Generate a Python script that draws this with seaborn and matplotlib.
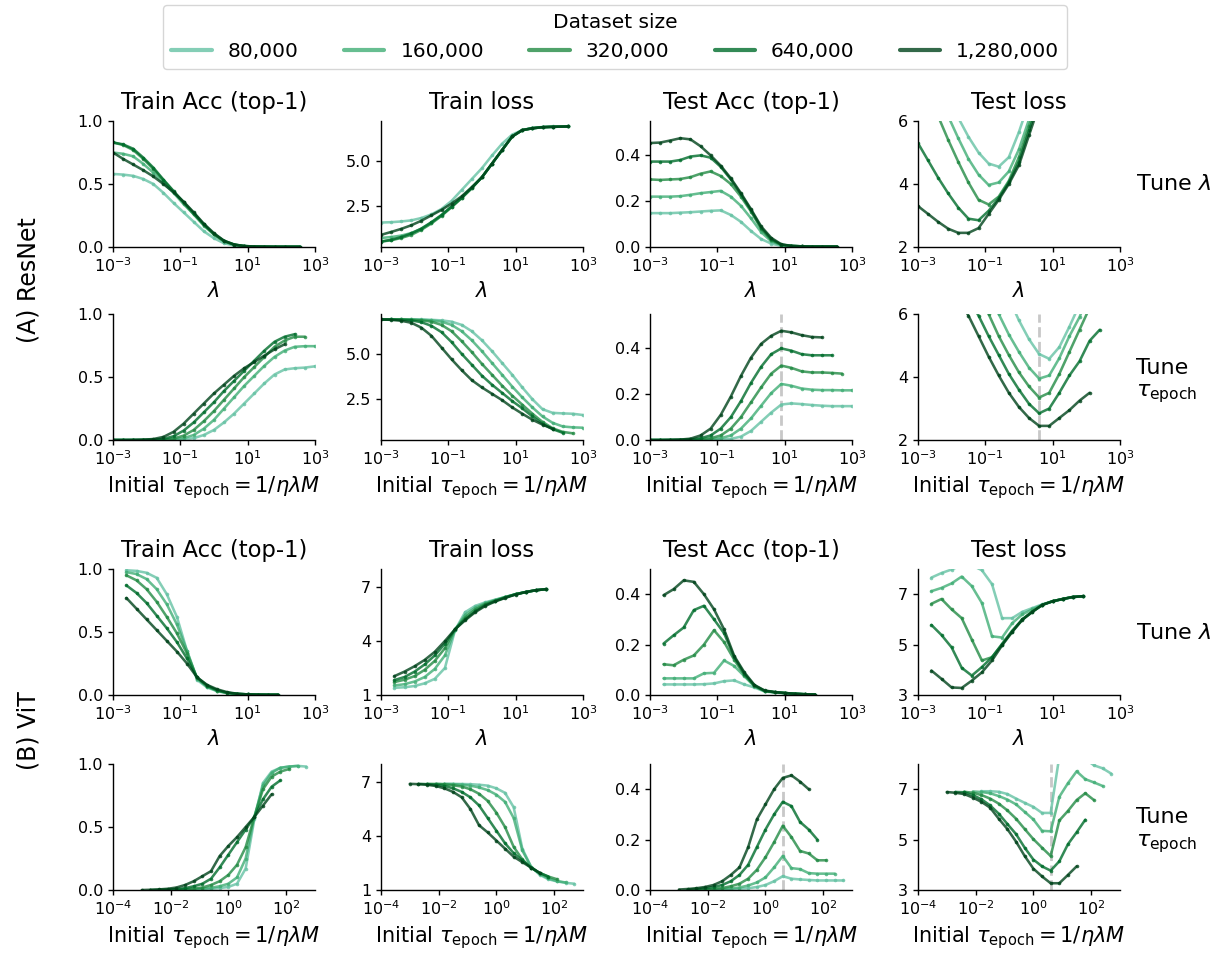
import numpy as np
import pandas as pd
import matplotlib
matplotlib.use("Agg")
import matplotlib.pyplot as plt
from matplotlib.lines import Line2D
from matplotlib.ticker import NullLocator, FixedLocator
import seaborn as sns

nan = float("nan")

SIZES = ["80,000", "160,000", "320,000", "640,000", "1,280,000"]
COLORS = ["#66c2a4", "#41ae76", "#238b45", "#006d2c", "#00441b"]

# ---------------- ResNet, tune lambda (log10 lambda) ----------------
R_LAM = [-3.0, -2.7, -2.4, -2.1, -1.8, -1.5, -1.2, -0.9, -0.6, -0.3, 0.0,
         0.3, 0.6, 0.9, 1.2, 1.5, 1.8, 2.1, 2.55]

r_lam_trainacc = [
    [0.58, 0.575, 0.565, 0.54, 0.50, 0.43, 0.35, 0.275, 0.20, 0.125, 0.07, 0.03, 0.012, 0.005, 0.003, 0.002, 0.002, 0.002, 0.002],
    [0.75, 0.74, 0.72, 0.66, 0.59, 0.51, 0.43, 0.34, 0.26, 0.17, 0.10, 0.045, 0.018, 0.007, 0.004, 0.003, 0.002, 0.002, 0.002],
    [0.83, 0.81, 0.77, 0.70, 0.62, 0.53, 0.44, 0.35, 0.26, 0.175, 0.10, 0.045, 0.018, 0.007, 0.004, 0.003, 0.002, 0.002, 0.002],
    [0.83, 0.815, 0.78, 0.71, 0.63, 0.535, 0.445, 0.355, 0.27, 0.18, 0.105, 0.05, 0.02, 0.008, 0.004, 0.003, 0.002, 0.002, 0.002],
    [0.75, 0.70, 0.655, 0.61, 0.56, 0.50, 0.435, 0.36, 0.275, 0.185, 0.11, 0.05, 0.02, 0.008, 0.004, 0.003, 0.002, 0.002, 0.002],
]
r_lam_trainloss = [
    [1.60, 1.62, 1.66, 1.72, 1.85, 2.05, 2.35, 2.8, 3.4, 4.0, 4.6, 5.3, 5.95, 6.45, 6.7, 6.82, 6.87, 6.9, 6.9],
    [0.75, 0.8, 0.88, 1.02, 1.25, 1.6, 2.0, 2.5, 3.0, 3.55, 4.1, 4.85, 5.6, 6.35, 6.7, 6.8, 6.86, 6.88, 6.9],
    [0.55, 0.62, 0.75, 0.92, 1.2, 1.55, 1.97, 2.45, 2.95, 3.5, 4.1, 4.85, 5.6, 6.35, 6.7, 6.8, 6.86, 6.88, 6.9],
    [0.55, 0.65, 0.8, 1.0, 1.27, 1.62, 2.02, 2.48, 2.97, 3.5, 4.1, 4.85, 5.6, 6.35, 6.7, 6.8, 6.86, 6.88, 6.9],
    [0.92, 1.08, 1.25, 1.45, 1.7, 2.0, 2.3, 2.65, 3.05, 3.55, 4.1, 4.85, 5.6, 6.35, 6.7, 6.8, 6.86, 6.88, 6.9],
]
r_lam_testacc = [
    [0.148, 0.148, 0.148, 0.15, 0.152, 0.155, 0.158, 0.16, 0.14, 0.11, 0.07, 0.035, 0.015, 0.005, 0.003, 0.002, 0.002, 0.002, 0.002],
    [0.22, 0.22, 0.22, 0.222, 0.228, 0.235, 0.24, 0.245, 0.22, 0.18, 0.125, 0.065, 0.025, 0.008, 0.004, 0.003, 0.002, 0.002, 0.002],
    [0.295, 0.293, 0.295, 0.297, 0.305, 0.32, 0.33, 0.31, 0.275, 0.22, 0.155, 0.08, 0.03, 0.01, 0.005, 0.003, 0.002, 0.002, 0.002],
    [0.373, 0.373, 0.373, 0.38, 0.395, 0.40, 0.39, 0.35, 0.295, 0.23, 0.16, 0.085, 0.035, 0.01, 0.005, 0.003, 0.002, 0.002, 0.002],
    [0.454, 0.456, 0.465, 0.475, 0.47, 0.44, 0.40, 0.355, 0.30, 0.235, 0.165, 0.09, 0.04, 0.012, 0.005, 0.003, 0.002, 0.002, 0.002],
]
r_lam_testloss = [
    [nan, nan, nan, 6.8, 6.1, 5.5, 5.0, 4.65, 4.55, 4.85, 5.65, 6.6, nan, nan, nan, nan, nan, nan, nan],
    [nan, nan, 6.9, 6.15, 5.45, 4.8, 4.3, 3.97, 4.05, 4.4, 5.1, 6.05, 6.9, nan, nan, nan, nan, nan, nan],
    [nan, 6.9, 6.15, 5.4, 4.7, 4.05, 3.5, 3.35, 3.6, 4.1, 4.85, 5.85, 6.7, nan, nan, nan, nan, nan, nan],
    [5.3, 4.75, 4.2, 3.7, 3.25, 2.9, 2.85, 3.15, 3.55, 4.05, 4.7, 5.7, 6.6, nan, nan, nan, nan, nan, nan],
    [3.3, 3.05, 2.8, 2.58, 2.45, 2.45, 2.6, 3.05, 3.5, 4.0, 4.6, 5.55, 6.5, nan, nan, nan, nan, nan, nan],
]

# ---------------- ResNet, tune tau (log10 tau); each series uses a prefix ----------------
R_TAU = [-3.0, -2.7, -2.4, -2.1, -1.8, -1.5, -1.2, -0.9, -0.6, -0.3, 0.0,
         0.3, 0.6, 0.9, 1.2, 1.5, 1.8, 2.1, 2.4, 2.7, 3.0]

r_tau_trainacc = [
    [0.0, 0.0, 0.0, 0.0, 0.0, 0.0, 0.002, 0.005, 0.015, 0.04, 0.08, 0.14, 0.21, 0.29, 0.37, 0.45, 0.52, 0.56, 0.57, 0.575, 0.585],
    [0.0, 0.0, 0.0, 0.0, 0.0, 0.002, 0.005, 0.015, 0.04, 0.09, 0.16, 0.25, 0.34, 0.43, 0.51, 0.59, 0.66, 0.71, 0.74, 0.745, 0.745],
    [0.0, 0.0, 0.0, 0.0, 0.001, 0.004, 0.012, 0.035, 0.08, 0.15, 0.23, 0.32, 0.41, 0.50, 0.58, 0.66, 0.74, 0.79, 0.82, 0.82],
    [0.0, 0.0, 0.0, 0.001, 0.003, 0.01, 0.03, 0.075, 0.14, 0.22, 0.30, 0.39, 0.47, 0.55, 0.63, 0.71, 0.78, 0.82, 0.84],
    [0.0, 0.0, 0.001, 0.003, 0.008, 0.025, 0.065, 0.13, 0.21, 0.29, 0.37, 0.44, 0.51, 0.57, 0.62, 0.67, 0.72, 0.76],
]
r_tau_trainloss = [
    [6.9, 6.9, 6.9, 6.9, 6.9, 6.88, 6.85, 6.78, 6.6, 6.25, 5.75, 5.15, 4.5, 3.85, 3.15, 2.5, 1.95, 1.75, 1.72, 1.7, 1.63],
    [6.9, 6.9, 6.9, 6.9, 6.88, 6.85, 6.78, 6.6, 6.25, 5.75, 5.15, 4.5, 3.85, 3.2, 2.6, 2.05, 1.55, 1.2, 1.0, 0.95, 0.93],
    [6.9, 6.9, 6.9, 6.88, 6.85, 6.78, 6.6, 6.25, 5.7, 5.1, 4.45, 3.85, 3.25, 2.7, 2.2, 1.7, 1.25, 0.9, 0.7, 0.62],
    [6.9, 6.9, 6.88, 6.85, 6.75, 6.55, 6.2, 5.65, 5.0, 4.4, 3.8, 3.3, 2.85, 2.4, 2.0, 1.55, 1.15, 0.85, 0.65],
    [6.9, 6.88, 6.83, 6.72, 6.45, 6.0, 5.35, 4.7, 4.1, 3.55, 3.15, 2.8, 2.45, 2.05, 1.7, 1.37, 1.1, 0.87],
]
r_tau_testacc = [
    [0.0, 0.0, 0.0, 0.0, 0.0, 0.0, 0.001, 0.002, 0.005, 0.015, 0.04, 0.08, 0.12, 0.155, 0.16, 0.157, 0.153, 0.15, 0.148, 0.148, 0.148],
    [0.0, 0.0, 0.0, 0.0, 0.0, 0.001, 0.003, 0.008, 0.02, 0.05, 0.095, 0.15, 0.205, 0.245, 0.237, 0.225, 0.22, 0.218, 0.218, 0.217, 0.217],
    [0.0, 0.0, 0.0, 0.0, 0.001, 0.003, 0.008, 0.02, 0.05, 0.1, 0.165, 0.23, 0.29, 0.325, 0.315, 0.30, 0.295, 0.295, 0.293, 0.29],
    [0.0, 0.0, 0.0, 0.001, 0.003, 0.008, 0.02, 0.05, 0.1, 0.17, 0.25, 0.32, 0.375, 0.40, 0.39, 0.375, 0.37, 0.37, 0.37],
    [0.0, 0.0, 0.001, 0.002, 0.006, 0.02, 0.05, 0.11, 0.19, 0.28, 0.36, 0.42, 0.455, 0.477, 0.47, 0.458, 0.45, 0.448],
]
r_tau_testloss = [
    [nan, nan, nan, nan, nan, nan, nan, nan, 7.2, 6.5, 5.8, 5.2, 4.73, 4.58, 4.95, 5.6, 6.3, 7.0, nan, nan, nan],
    [nan, nan, nan, nan, nan, nan, 7.2, 6.6, 6.0, 5.35, 4.8, 4.3, 3.95, 4.05, 4.6, 5.3, 5.9, 6.7, nan, nan, nan],
    [nan, nan, nan, nan, nan, 7.2, 6.6, 6.0, 5.3, 4.7, 4.15, 3.7, 3.35, 3.5, 4.1, 4.8, 5.5, 6.2, 6.9, nan],
    [nan, nan, nan, nan, 7.1, 6.5, 5.95, 5.3, 4.7, 4.1, 3.6, 3.15, 2.85, 3.0, 3.5, 4.05, 4.5, 5.15, 5.5],
    [nan, nan, nan, 7.1, 6.5, 5.95, 5.3, 4.65, 4.05, 3.5, 3.05, 2.7, 2.45, 2.45, 2.7, 2.95, 3.25, 3.5],
]

# ---------------- ViT, tune lambda ----------------
V_LAM = [-2.6, -2.3, -2.0, -1.7, -1.4, -1.1, -0.8, -0.5, -0.2, 0.1, 0.4, 0.7, 1.0, 1.3, 1.6, 1.9]

v_lam_trainacc = [
    [0.99, 0.985, 0.97, 0.93, 0.80, 0.62, 0.35, 0.12, 0.06, 0.03, 0.015, 0.008, 0.005, 0.003, 0.002, 0.002],
    [0.975, 0.96, 0.92, 0.84, 0.72, 0.56, 0.35, 0.13, 0.065, 0.032, 0.016, 0.008, 0.005, 0.003, 0.002, 0.002],
    [0.95, 0.91, 0.84, 0.74, 0.62, 0.49, 0.33, 0.135, 0.07, 0.035, 0.017, 0.008, 0.005, 0.003, 0.002, 0.002],
    [0.87, 0.81, 0.73, 0.63, 0.53, 0.42, 0.29, 0.14, 0.075, 0.038, 0.018, 0.009, 0.005, 0.003, 0.002, 0.002],
    [0.77, 0.685, 0.60, 0.515, 0.43, 0.345, 0.25, 0.14, 0.08, 0.045, 0.022, 0.01, 0.005, 0.003, 0.002, 0.002],
]
v_lam_trainloss = [
    [1.4, 1.43, 1.5, 1.65, 1.9, 2.5, 4.6, 5.6, 5.95, 6.15, 6.3, 6.45, 6.6, 6.72, 6.82, 6.88],
    [1.53, 1.6, 1.75, 2.0, 2.45, 3.2, 4.6, 5.45, 5.85, 6.1, 6.28, 6.45, 6.6, 6.72, 6.82, 6.88],
    [1.72, 1.85, 2.05, 2.4, 2.9, 3.6, 4.65, 5.3, 5.75, 6.05, 6.25, 6.43, 6.6, 6.72, 6.82, 6.88],
    [1.83, 2.0, 2.3, 2.7, 3.2, 3.85, 4.65, 5.2, 5.65, 6.0, 6.22, 6.42, 6.6, 6.72, 6.82, 6.88],
    [2.05, 2.3, 2.6, 2.95, 3.4, 4.0, 4.65, 5.15, 5.6, 5.95, 6.2, 6.4, 6.58, 6.72, 6.82, 6.88],
]
v_lam_testacc = [
    [0.042, 0.042, 0.042, 0.042, 0.043, 0.046, 0.055, 0.058, 0.042, 0.03, 0.014, 0.01, 0.007, 0.005, 0.003, 0.002],
    [0.066, 0.066, 0.066, 0.066, 0.086, 0.088, 0.137, 0.115, 0.075, 0.034, 0.016, 0.011, 0.008, 0.005, 0.003, 0.002],
    [0.122, 0.118, 0.14, 0.157, 0.20, 0.257, 0.21, 0.14, 0.08, 0.036, 0.016, 0.011, 0.008, 0.005, 0.003, 0.002],
    [0.204, 0.237, 0.268, 0.337, 0.354, 0.30, 0.245, 0.15, 0.085, 0.038, 0.017, 0.011, 0.008, 0.005, 0.003, 0.002],
    [0.396, 0.42, 0.455, 0.449, 0.40, 0.34, 0.26, 0.155, 0.09, 0.04, 0.018, 0.012, 0.008, 0.005, 0.003, 0.002],
]
v_lam_testloss = [
    [7.66, 7.84, 7.98, 8.15, 8.15, 7.95, 7.4, 6.05, 6.05, 6.3, 6.45, 6.6, 6.72, 6.81, 6.88, 6.92],
    [7.12, 7.25, 7.43, 7.7, 7.32, 6.65, 5.33, 5.28, 5.85, 6.2, 6.4, 6.58, 6.72, 6.81, 6.89, 6.92],
    [6.62, 6.81, 6.4, 6.05, 5.2, 4.37, 4.5, 5.0, 5.52, 6.0, 6.32, 6.58, 6.72, 6.81, 6.89, 6.92],
    [5.78, 5.38, 4.89, 4.08, 3.77, 4.11, 4.5, 5.03, 5.55, 6.0, 6.3, 6.58, 6.72, 6.81, 6.89, 6.92],
    [3.97, 3.64, 3.3, 3.28, 3.57, 3.9, 4.37, 4.97, 5.5, 5.98, 6.3, 6.58, 6.72, 6.81, 6.89, 6.92],
]

# ---------------- ViT, tune tau: 16 points per series, starting at index V_TAU_START ----------------
V_TAU = [-3.0, -2.7, -2.4, -2.1, -1.8, -1.5, -1.2, -0.9, -0.6, -0.3, 0.0,
         0.3, 0.6, 0.9, 1.2, 1.5, 1.8, 2.1, 2.4, 2.7]
V_TAU_START = [4, 3, 2, 1, 0]

v_tau_trainacc = [
    [0.0, 0.002, 0.004, 0.007, 0.01, 0.015, 0.025, 0.05, 0.17, 0.56, 0.85, 0.94, 0.97, 0.98, 0.985, 0.98],
    [0.0, 0.002, 0.004, 0.007, 0.01, 0.018, 0.03, 0.05, 0.1, 0.25, 0.58, 0.83, 0.93, 0.97, 0.98, 0.985],
    [0.0, 0.002, 0.004, 0.007, 0.012, 0.02, 0.04, 0.07, 0.12, 0.2, 0.34, 0.58, 0.8, 0.9, 0.94, 0.96],
    [0.0, 0.002, 0.004, 0.008, 0.015, 0.03, 0.05, 0.09, 0.18, 0.28, 0.38, 0.48, 0.58, 0.72, 0.82, 0.87],
    [0.0, 0.002, 0.005, 0.01, 0.02, 0.04, 0.07, 0.11, 0.15, 0.27, 0.35, 0.42, 0.5, 0.58, 0.67, 0.76],
]
v_tau_trainloss = [
    [6.9, 6.9, 6.89, 6.88, 6.85, 6.8, 6.65, 6.4, 5.6, 3.3, 2.3, 1.85, 1.6, 1.48, 1.4, 1.35],
    [6.9, 6.89, 6.88, 6.85, 6.8, 6.7, 6.55, 6.3, 5.9, 5.0, 3.2, 2.3, 1.9, 1.65, 1.5, 1.42],
    [6.9, 6.89, 6.87, 6.82, 6.75, 6.6, 6.35, 5.95, 5.3, 4.5, 3.4, 2.7, 2.25, 1.95, 1.75, 1.6],
    [6.9, 6.88, 6.85, 6.78, 6.65, 6.45, 6.15, 5.7, 5.0, 4.3, 3.6, 3.05, 2.65, 2.25, 1.95, 1.75],
    [6.9, 6.88, 6.85, 6.78, 6.65, 6.45, 6.15, 5.5, 4.6, 4.2, 3.75, 3.3, 2.85, 2.55, 2.25, 1.95],
]
v_tau_testacc = [
    [0.001, 0.002, 0.003, 0.005, 0.007, 0.012, 0.02, 0.035, 0.055, 0.045, 0.042, 0.04, 0.038, 0.038, 0.038, 0.038],
    [0.001, 0.002, 0.004, 0.006, 0.01, 0.018, 0.03, 0.05, 0.09, 0.135, 0.087, 0.083, 0.067, 0.065, 0.065, 0.065],
    [0.001, 0.003, 0.005, 0.008, 0.015, 0.025, 0.045, 0.08, 0.13, 0.19, 0.255, 0.21, 0.155, 0.145, 0.118, 0.118],
    [0.002, 0.004, 0.007, 0.012, 0.02, 0.035, 0.06, 0.1, 0.17, 0.24, 0.3, 0.35, 0.333, 0.27, 0.24, 0.2],
    [0.002, 0.004, 0.007, 0.012, 0.02, 0.035, 0.06, 0.09, 0.17, 0.28, 0.34, 0.40, 0.445, 0.455, 0.43, 0.40],
]
v_tau_testloss = [
    [6.92, 6.92, 6.9, 6.81, 6.63, 6.46, 6.3, 6.06, 6.06, 8.3, 8.5, 8.4, 8.2, 7.95, 7.83, 7.62],
    [6.91, 6.89, 6.84, 6.73, 6.59, 6.4, 6.1, 5.8, 5.35, 5.33, 6.7, 7.24, 7.71, 7.4, 7.27, 7.13],
    [6.9, 6.86, 6.77, 6.63, 6.43, 6.16, 5.83, 5.42, 5.02, 4.68, 4.35, 5.76, 6.14, 6.57, 6.84, 6.57],
    [6.89, 6.88, 6.77, 6.6, 6.36, 6.03, 5.62, 5.22, 4.68, 4.21, 3.94, 3.77, 4.14, 4.82, 5.29, 5.79],
    [6.89, 6.86, 6.81, 6.67, 6.5, 6.27, 5.83, 5.42, 4.92, 4.35, 3.85, 3.54, 3.27, 3.27, 3.6, 3.94],
]

# reference lines (log10 tau)
R_TAU_ACC_VLINE = 0.9
R_TAU_LOSS_VLINE = 0.6
V_TAU_VLINE = 0.6

TITLES = ["Train Acc (top-1)", "Train loss", "Test Acc (top-1)", "Test loss"]

# ---------------- style ----------------
sns.set_style("ticks")
plt.rcParams["font.family"] = ["DejaVu Sans"]
plt.rcParams["mathtext.fontset"] = "dejavusans"
for key in ["text.color", "axes.labelcolor", "xtick.color", "ytick.color", "axes.edgecolor"]:
    plt.rcParams[key] = "black"
plt.rcParams["axes.linewidth"] = 1.0
plt.rcParams["xtick.major.width"] = 1.0
plt.rcParams["ytick.major.width"] = 1.0

fig = plt.figure(figsize=(12.21, 9.56), dpi=100)

LEFTS = [0.0925, 0.3120, 0.5324, 0.7518]
BOTTOMS = [0.7416, 0.5397, 0.2730, 0.0690]
W, H = 0.1654, 0.1318

LAM_LABEL = r"$\lambda$"
TAU_LABEL = r"Initial $\tau_{\mathrm{epoch}} = 1/\eta\lambda M$"


def series_frame(xs_list, ys_list):
    frames = []
    for name, xs, ys in zip(SIZES, xs_list, ys_list):
        frames.append(pd.DataFrame({"x": np.power(10.0, np.asarray(xs, float)),
                                    "y": np.asarray(ys, float), "size": name}))
    return pd.concat(frames, ignore_index=True).dropna()


def draw(ax, xs_list, ys_list, ylim, yticks, xticks, xlim, xlabel, title=None, vline=None):
    df = series_frame(xs_list, ys_list)
    if vline is not None:
        ax.axvline(10 ** vline, color="#c8c8c8", ls="--", lw=2.0, zorder=0)
    sns.lineplot(data=df, x="x", y="y", hue="size", hue_order=SIZES, palette=COLORS,
                 marker="o", markersize=2.6, markeredgewidth=0, linewidth=1.85,
                 alpha=0.8, legend=False, errorbar=None, ax=ax)
    ax.set_xscale("log")
    ax.set_xlim(*xlim)
    ax.set_ylim(*ylim)
    ax.xaxis.set_major_locator(FixedLocator(xticks))
    ax.xaxis.set_minor_locator(NullLocator())
    ax.set_yticks(yticks)
    ax.tick_params(labelsize=11.5)
    ax.set_xlabel(xlabel, fontsize=15)
    ax.set_ylabel("")
    if title:
        ax.set_title(title, fontsize=16.3, pad=8.5)
    sns.despine(ax=ax)


RX = [1e-3, 1e-1, 1e1, 1e3]
VX_TAU = [1e-4, 1e-2, 1e0, 1e2]

# ResNet row 1
lam_x = [R_LAM] * 5
r_specs = [
    (r_lam_trainacc, (0, 1.0), [0.0, 0.5, 1.0]),
    (r_lam_trainloss, (0.25, 7.2), [2.5, 5.0]),
    (r_lam_testacc, (0, 0.55), [0.0, 0.2, 0.4]),
    (r_lam_testloss, (2, 6), [2, 4, 6]),
]
for c, (ys, yl, yt) in enumerate(r_specs):
    ax = fig.add_axes([LEFTS[c], BOTTOMS[0], W, H])
    draw(ax, lam_x, ys, yl, yt, RX, (1e-3, 1e3), LAM_LABEL, TITLES[c])

# ResNet row 2
r_tau_specs = [
    (r_tau_trainacc, (0, 1.0), [0.0, 0.5, 1.0], None),
    (r_tau_trainloss, (0.25, 7.2), [2.5, 5.0], None),
    (r_tau_testacc, (0, 0.55), [0.0, 0.2, 0.4], R_TAU_ACC_VLINE),
    (r_tau_testloss, (2, 6), [2, 4, 6], R_TAU_LOSS_VLINE),
]
for c, (ys, yl, yt, vl) in enumerate(r_tau_specs):
    ax = fig.add_axes([LEFTS[c], BOTTOMS[1], W, H])
    xs = [R_TAU[:len(y)] for y in ys]
    draw(ax, xs, ys, yl, yt, RX, (1e-3, 1e3), TAU_LABEL, None, vl)

# ViT row 3
v_specs = [
    (v_lam_trainacc, (0, 1.0), [0.0, 0.5, 1.0]),
    (v_lam_trainloss, (1, 8), [1, 4, 7]),
    (v_lam_testacc, (0, 0.5), [0.0, 0.2, 0.4]),
    (v_lam_testloss, (3, 8), [3, 5, 7]),
]
for c, (ys, yl, yt) in enumerate(v_specs):
    ax = fig.add_axes([LEFTS[c], BOTTOMS[2], W, H])
    draw(ax, [V_LAM] * 5, ys, yl, yt, RX, (1e-3, 1e3), LAM_LABEL, TITLES[c])

# ViT row 4
v_tau_specs = [
    (v_tau_trainacc, (0, 1.0), [0.0, 0.5, 1.0], None),
    (v_tau_trainloss, (1, 8), [1, 4, 7], None),
    (v_tau_testacc, (0, 0.5), [0.0, 0.2, 0.4], V_TAU_VLINE),
    (v_tau_testloss, (3, 8), [3, 5, 7], V_TAU_VLINE),
]
for c, (ys, yl, yt, vl) in enumerate(v_tau_specs):
    ax = fig.add_axes([LEFTS[c], BOTTOMS[3], W, H])
    xs = [V_TAU[s:s + len(y)] for s, y in zip(V_TAU_START, ys)]
    draw(ax, xs, ys, yl, yt, VX_TAU, (1e-4, 1e3), TAU_LABEL, None, vl)

# row labels
fig.text(0.023, 0.707, "(A) ResNet", rotation=90, ha="center", va="center", fontsize=17)
fig.text(0.023, 0.236, "(B) ViT", rotation=90, ha="center", va="center", fontsize=17)

fig.text(0.930, 0.808, r"Tune $\lambda$", ha="left", va="center", fontsize=16)
fig.text(0.930, 0.601, "Tune\n" + r"$\tau_{\mathrm{epoch}}$", ha="left", va="center", fontsize=16)
fig.text(0.930, 0.338, r"Tune $\lambda$", ha="left", va="center", fontsize=16)
fig.text(0.930, 0.131, "Tune\n" + r"$\tau_{\mathrm{epoch}}$", ha="left", va="center", fontsize=16)

# legend
handles = [Line2D([0], [0], color=col, lw=3.0, alpha=0.8) for col in COLORS]
leg = fig.legend(handles, SIZES, title="Dataset size", loc="upper center",
                 bbox_to_anchor=(0.504, 1.005), ncol=5, fontsize=14.5,
                 title_fontsize=14.5, frameon=True, columnspacing=2.25)
leg.get_frame().set_edgecolor("#cccccc")

fig.savefig("out.png", dpi=100)
